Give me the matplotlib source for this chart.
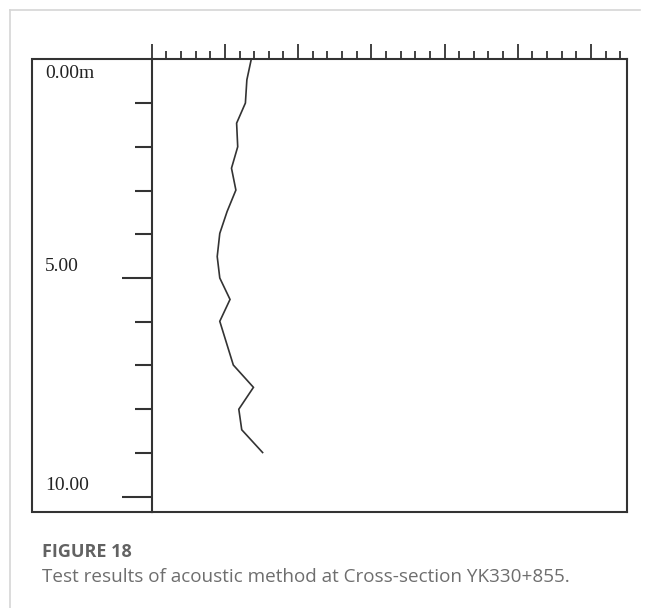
import matplotlib.pyplot as plt
from matplotlib.lines import Line2D
from matplotlib import transforms

# depth (m) and acoustic reading along the borehole
depth_m = [0.0, 0.47, 1.0, 1.46, 2.0, 2.49, 2.99, 3.48, 3.98, 4.51,
           5.0, 5.49, 5.99, 6.99, 7.5, 8.0, 8.47, 8.99]
reading = [13.6, 13.0, 12.8, 11.6, 11.75, 10.9, 11.5, 10.3, 9.3, 8.95,
           9.3, 10.7, 9.3, 11.15, 13.9, 11.9, 12.3, 15.15]

depth_labels = ['0.00m', '5.00', '10.00']
depth_label_pos = [0, 5, 10]

W, H = 646, 608
ink = '#333333'

fig = plt.figure(figsize=(W / 100, H / 100), dpi=100)

# plot area (inner part, right of the depth scale)
left, right, top, bottom = 151.7, 627, 59.3, 512
ax = fig.add_axes([left / W, 1 - bottom / H, (right - left) / W, (bottom - top) / H])

ax.plot(reading, depth_m, color=ink, lw=1.2, solid_joinstyle='miter')
ax.set_xlim(0, 64.93)
ax.set_ylim(10.35, 0)

for s in ax.spines.values():
    s.set_color(ink)
    s.set_linewidth(1.5)

# top scale: major every 10, minor every 2, no numbers
ax.xaxis.set_ticks_position('top')
ax.set_xticks(range(0, 65, 10))
ax.set_xticks(range(0, 65, 2), minor=True)
ax.tick_params(axis='x', which='major', direction='out', length=10.5, width=1.3, color=ink, labeltop=False)
ax.tick_params(axis='x', which='minor', direction='out', length=6, width=1.3, color=ink)

# left depth scale
ax.set_yticks(range(1, 11))
ax.set_yticklabels([])
ax.tick_params(axis='y', direction='out', length=12.5, width=1.5, color=ink)
for t in ax.yaxis.get_major_ticks():
    if t.get_loc() in (5, 10):
        t.tick1line.set_markersize(21.5)

# depth labels (x in figure, y in data)
blend = transforms.blended_transform_factory(fig.transFigure, ax.transData)
for lab, d in zip(depth_labels, depth_label_pos):
    dy = -14 if d == 0 else 11
    tr = transforms.offset_copy(blend, fig=fig, y=dy, units='dots')
    ax.text(45 / W, d, lab, transform=tr, ha='left', va='center',
            family='Liberation Serif', fontsize=14, color='#222222', clip_on=False)

# outer box part on the left
def fline(xs, ys, **kw):
    fig.add_artist(Line2D([x / W for x in xs], [1 - y / H for y in ys],
                          transform=fig.transFigure, **kw))

fline([left, 32, 32, left], [top, top, bottom, bottom], color=ink, lw=1.5,
      solid_joinstyle='miter')

# light page frame
fline([9.5, 9.5], [H, 9.5], color='#d6d6d6', lw=1.2)
fline([9.5, 640], [9.5, 9.5], color='#d6d6d6', lw=1.2)

# caption
fig.text(42 / W, 1 - 552 / H, 'FIGURE 18', family='Open Sans', fontweight='bold',
         fontsize=13, color='#626262', va='center', ha='left')
fig.text(42 / W, 1 - 577 / H, 'Test results of acoustic method at Cross-section YK330+855.',
         family='Open Sans', fontsize=13.6, color='#6e6e6e', va='center', ha='left')

plt.savefig('out.png', dpi=100)
